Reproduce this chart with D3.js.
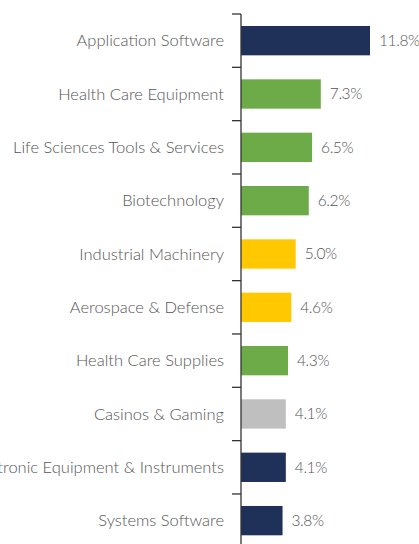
<!DOCTYPE html>
<html>
<head>
<meta charset="utf-8">
<script src="https://cdn.jsdelivr.net/npm/d3@7"></script>
<style>
  body { margin: 0; background: #fff; }
  text { font-family: Lato, "Open Sans", sans-serif; font-weight: 300; }
</style>
</head>
<body>
<div id="chart"></div>
<script>
const categories = [
  'Application Software',
  'Health Care Equipment',
  'Life Sciences Tools & Services',
  'Biotechnology',
  'Industrial Machinery',
  'Aerospace & Defense',
  'Health Care Supplies',
  'Casinos & Gaming',
  'Electronic Equipment & Instruments',
  'Systems Software'
]
const values = [11.8, 7.3, 6.5, 6.2, 5.0, 4.6, 4.3, 4.1, 4.1, 3.8]
const sectors = ['tech', 'health', 'health', 'health', 'industrial', 'industrial', 'health', 'consumer', 'tech', 'tech']

const width = 419
const height = 544
const axisX = 241

const color = d3.scaleOrdinal()
  .domain(['tech', 'health', 'industrial', 'consumer'])
  .range(['#1f3158', '#6dab48', '#ffc800', '#bfbfbf'])

const data = categories.map((c, i) => ({ name: c, value: values[i], sector: sectors[i] }))

const svg = d3.select('#chart')
  .append('svg')
  .attr('width', width)
  .attr('height', height)

const x = d3.scaleLinear().domain([0, 11.8]).range([axisX, 370])
const y = d3.scaleBand()
  .domain(categories)
  .range([14, 547.3])
  .paddingInner(0.45)
  .paddingOuter(0.225)

// Bars
svg.append('g')
  .selectAll('rect')
  .data(data)
  .join('rect')
  .attr('x', x(0))
  .attr('y', d => y(d.name))
  .attr('width', d => x(d.value) - x(0))
  .attr('height', y.bandwidth())
  .attr('fill', d => color(d.sector))

// Axis line and boundary ticks
const step = y.step()
const bounds = d3.range(categories.length).map(i => y.range()[0] + i * step)
const gAxis = svg.append('g')
gAxis.append('line')
  .attr('x1', axisX).attr('x2', axisX)
  .attr('y1', y.range()[0]).attr('y2', height)
  .attr('stroke', '#333').attr('stroke-width', 1.3)
gAxis.selectAll('.tick')
  .data(bounds)
  .join('line')
  .attr('class', 'tick')
  .attr('x1', axisX - 9).attr('x2', axisX)
  .attr('y1', d => d).attr('y2', d => d)
  .attr('stroke', '#333').attr('stroke-width', 1.3)

// Category labels
svg.append('g')
  .selectAll('text')
  .data(data)
  .join('text')
  .attr('x', axisX - 17)
  .attr('y', d => y(d.name) + y.bandwidth() / 2)
  .attr('dy', '0.35em')
  .attr('text-anchor', 'end')
  .attr('fill', '#555')
  .style('font-size', '16.5px')
  .text(d => d.name)

// Value labels
svg.append('g')
  .selectAll('text')
  .data(data)
  .join('text')
  .attr('x', d => x(d.value) + 9)
  .attr('y', d => y(d.name) + y.bandwidth() / 2)
  .attr('dy', '0.35em')
  .attr('fill', '#555')
  .style('font-size', '15.5px')
  .style('letter-spacing', '-0.4px')
  .text(d => d.value.toFixed(1) + '%')
</script>
</body>
</html>
